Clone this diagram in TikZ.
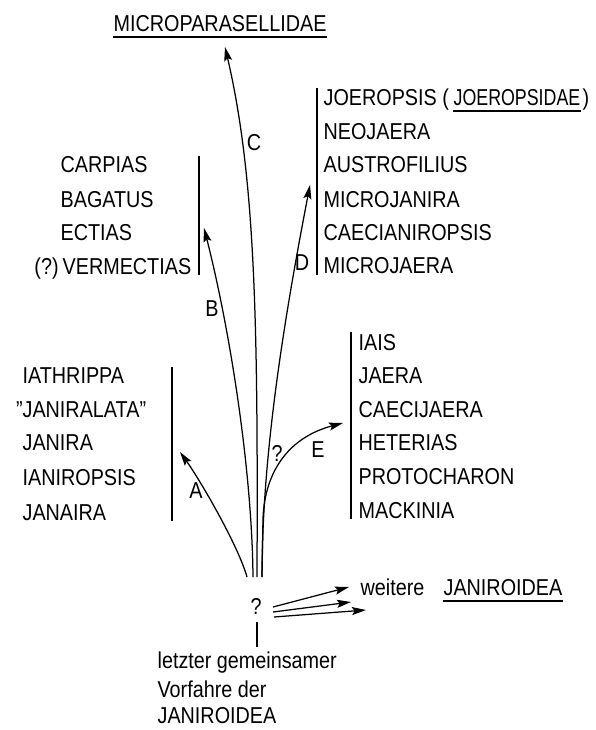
\documentclass[tikz,border=0pt]{standalone}
\usepackage{fontspec}
\setmainfont[FakeStretch=0.86]{Liberation Sans}
\usetikzlibrary{arrows.meta}
\begin{document}
\begin{tikzpicture}[x=1pt,y=-1pt,line width=1.25pt,
  txt/.style={anchor=base west,inner sep=0pt,font=\fontsize{23}{28}\selectfont},
  lab/.style={inner sep=0pt,font=\fontsize{23}{28}\selectfont},
  arr/.style={-{Stealth[length=14pt,width=8pt,inset=2.5pt]}},
  barline/.style={line width=1.25pt}]
\useasboundingbox (0,0) rectangle (595,730);
% title
\node[txt] (title) at (113,32) {MICROPARASELLIDAE};
\draw ([yshift=-5pt]title.base west) -- ([yshift=-5pt]title.base east);
% group B
\node[txt] (b1) at (60,172) {CARPIAS};
\node[txt] (b2) at (60,207) {BAGATUS};
\node[txt] (b3) at (60,240) {ECTIAS};
\node[txt] (b4) at (62,274) {\llap{(?)\kern4pt}VERMECTIAS};
\coordinate (bBt) at (199,156); \coordinate (bBb) at (199,275);
\draw[barline] (bBt) -- (bBb);
% group D
\node[txt] (d1) at (323,106) {JOEROPSIS (};
\node[txt] (d1b) at (453,106) {\scalebox{0.9}[1]{JOEROPSIDAE}};
\node[txt] (d1c) at ([xshift=1pt]d1b.base east) {)};
\draw ([yshift=-5pt]d1b.base west) -- ([yshift=-5pt]d1b.base east);
\node[txt] (d2) at (323,140) {NEOJAERA};
\node[txt] (d3) at (323,173) {AUSTROFILIUS};
\node[txt] (d4) at (323,207) {MICROJANIRA};
\node[txt] (d5) at (323,240) {CAECIANIROPSIS};
\node[txt] (d6) at (323,273) {MICROJAERA};
\coordinate (bDt) at (317,88); \coordinate (bDb) at (317,275);
\draw[barline] (bDt) -- (bDb);
% group A
\node[txt] (a1) at (22,383) {IATHRIPPA};
\node[txt] (a2) at (22,417) {\llap{"}JANIRALATA"};
\node[txt] (a3) at (22,450) {JANIRA};
\node[txt] (a4) at (22,485) {IANIROPSIS};
\node[txt] (a5) at (22,520) {JANAIRA};
\coordinate (bAt) at (172,367); \coordinate (bAb) at (172,521);
\draw[barline] (bAt) -- (bAb);
% group E
\node[txt] (e1) at (358,350) {IAIS};
\node[txt] (e2) at (358,383) {JAERA};
\node[txt] (e3) at (358,417) {CAECIJAERA};
\node[txt] (e4) at (358,450) {HETERIAS};
\node[txt] (e5) at (358,484) {PROTOCHARON};
\node[txt] (e6) at (358,518) {MACKINIA};
\coordinate (bEt) at (351,332); \coordinate (bEb) at (351,519);
\draw[barline] (bEt) -- (bEb);
% roots and tips
\coordinate (rA) at (247,577); \coordinate (rB) at (253,577);
\coordinate (rC) at (257,577); \coordinate (rD) at (262,577);
\coordinate (eb) at (263,518);
\coordinate (tA) at (180,452); \coordinate (tB) at (204,228);
\coordinate (tC) at (225,47); \coordinate (tD) at (310,185);
\coordinate (tE) at (343,423);
\draw[arr] (rA) .. controls (238,545) and (200,480) .. (tA);
\draw[arr] (rB) .. controls (252,470) and (230,330) .. (tB);
\draw[arr] (rC) .. controls (258,330) and (256,180) .. (tC);
\draw[arr] (rD) .. controls (262,460) and (282,330) .. (tD);
\draw[arr] (rD) -- (eb) .. controls (265,470) and (290,437) .. (tE);
% branch labels
\node[lab] (lA) at (196,491) {A};
\node[lab] (lB) at (212,309) {B};
\node[lab] (lC) at (254,143) {C};
\node[lab] (lD) at (302,263) {D};
\node[lab] (lE) at (318,450) {E};
\node[lab] (lq) at (277,453) {?};
% bottom
\node[lab] (q) at (256,606) {?};
\coordinate (qa) at (257,622); \coordinate (qb) at (257,647);
\draw (qa) -- (qb);
\coordinate (s1) at (273,607); \coordinate (s2) at (273,612); \coordinate (s3) at (274,617);
\coordinate (u1) at (349,587); \coordinate (u2) at (351,602); \coordinate (u3) at (366,610);
\draw[arr] (s1) -- (u1);
\draw[arr] (s2) -- (u2);
\draw[arr] (s3) -- (u3);
\node[txt] (w1) at (360,595) {weitere};
\node[txt] (w2) at (443,595) {JANIROIDEA};
\draw ([yshift=-6pt]w2.base west) -- ([yshift=-6pt]w2.base east);
\node[txt] (f1) at (157,668) {letzter gemeinsamer};
\node[txt] (f2) at (157,697) {Vorfahre der};
\node[txt] (f3) at (157,723) {JANIROIDEA};
\end{tikzpicture}
\end{document}
